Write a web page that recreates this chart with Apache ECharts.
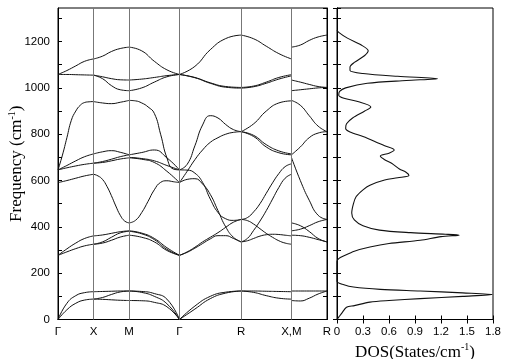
<!DOCTYPE html>
<html>
<head>
<meta charset="utf-8">
<script src="https://cdn.jsdelivr.net/npm/echarts@6/dist/echarts.min.js"></script>
<style>html,body{margin:0;padding:0;background:#fff}#c{width:508px;height:359px}</style>
</head>
<body>
<div id="c"></div>
<script>
// High-symmetry path (cumulative |k|, units of 2*pi/a)
const kNodes = [0, 0.5, 1.0, 1.7071, 2.5731, 3.2802, 3.7802];
const kLabels = ['Γ', 'X', 'M', 'Γ', 'R', 'X,M', 'R'];
const freqTicks = [0, 200, 400, 600, 800, 1000, 1200];
const dosTicks = [0, 0.3, 0.6, 0.9, 1.2, 1.5, 1.8];

// Band frequencies (cm^-1), each curve sampled uniformly along its segment
const bandsGX = [
  [0, 42, 70, 84, 88],
  [0, 70, 103, 116, 120],
  [277, 292, 306, 318, 325],
  [277, 305, 330, 350, 361],
  [591, 600, 610, 620, 627],
  [646, 655, 663, 670, 675],
  [646, 665, 685, 703, 715],
  [646, 710, 785, 860, 900, 925, 937, 940, 941],
  [1058, 1075, 1095, 1115, 1125],
  [1058, 1058, 1057, 1056, 1055]
];
const bandsXM = [
  [88, 87, 85, 83, 82],
  [88, 95, 108, 119, 123],
  [120, 121, 122, 123, 123],
  [325, 330, 342, 356, 364],
  [325, 335, 355, 374, 381],
  [361, 365, 372, 379, 383],
  [627, 620, 605, 575, 535, 490, 450, 425, 417],
  [675, 678, 685, 693, 698],
  [675, 682, 692, 703, 711],
  [715, 724, 729, 722, 711],
  [941, 935, 932, 938, 946],
  [1055, 1048, 1040, 1035, 1034],
  [1055, 1040, 1010, 992, 988],
  [1125, 1137, 1157, 1170, 1176]
];
const bandsMG = [
  [82, 81, 74, 55, 0],
  [123, 117, 100, 68, 0],
  [123, 121, 112, 88, 0],
  [364, 355, 335, 298, 277],
  [381, 370, 345, 303, 277],
  [383, 373, 350, 310, 277],
  [417, 428, 462, 510, 560, 592, 599, 595, 591],
  [698, 692, 678, 640, 591],
  [700, 695, 685, 665, 646],
  [711, 721, 732, 698, 646],
  [946, 944, 935, 918, 890, 800, 698, 650, 646],
  [988, 1000, 1025, 1048, 1058],
  [1034, 1038, 1045, 1053, 1058],
  [1176, 1160, 1115, 1078, 1058]
];
const bandsGR = [
  [0, 45, 90, 114, 123],
  [0, 58, 100, 118, 123],
  [277, 290, 308, 328, 348, 362, 362, 350, 335],
  [277, 292, 312, 335, 355, 375, 398, 420, 432],
  [591, 605, 608, 585, 540, 470, 400, 355, 335],
  [646, 645, 632, 592, 520, 462, 435, 428, 432],
  [591, 640, 690, 732, 765, 785, 800, 808, 811],
  [646, 670, 750, 840, 880, 870, 842, 820, 811],
  [1058, 1045, 1022, 1006, 1002],
  [1058, 1044, 1020, 1003, 999],
  [1058, 1093, 1165, 1213, 1228]
];
const bandsRX = [
  [123, 123, 122, 121, 120],
  [123, 117, 103, 92, 88],
  [432, 427, 412, 392, 372, 355, 340, 330, 325],
  [335, 340, 350, 360, 366, 368, 367, 364, 361],
  [335, 350, 385, 425, 470, 520, 570, 610, 627],
  [432, 440, 465, 500, 545, 590, 630, 660, 672],
  [811, 790, 745, 720, 711],
  [811, 795, 755, 728, 715],
  [811, 845, 900, 935, 944],
  [1002, 1008, 1025, 1045, 1057],
  [999, 1005, 1020, 1038, 1052],
  [1228, 1212, 1180, 1148, 1125]
];
const bandsMR = [
  [82, 80, 92, 110, 123],
  [123, 123, 123, 123, 123],
  [364, 362, 355, 345, 335],
  [383, 390, 405, 422, 432],
  [417, 405, 380, 350, 335],
  [700, 600, 515, 450, 432],
  [711, 745, 785, 805, 811],
  [946, 925, 880, 835, 811],
  [988, 992, 996, 1000, 1002],
  [1034, 1025, 1015, 1006, 1002],
  [1176, 1185, 1205, 1220, 1228]
];

// Phonon DOS: frequency (cm^-1) and states/cm^-1
const dosFreq = [1250, 1240, 1215, 1185, 1160, 1140, 1110, 1090, 1075, 1062, 1050, 1040, 1032, 1020, 1000, 985, 968, 955, 940, 918, 900, 870, 845, 825, 810, 790, 770, 750, 732, 718, 706, 690, 675, 650, 635, 622, 612, 602, 580, 560, 530, 500, 460, 430, 405, 386, 375, 368, 364, 358, 342, 328, 313, 295, 275, 263, 250, 165, 150, 140, 130, 123, 115, 108, 100, 90, 82, 75, 60, 53, 30, 10, 0];
const dosVal  = [0, 0.02, 0.12, 0.28, 0.36, 0.32, 0.2, 0.15, 0.15, 0.3, 0.7, 1.16, 0.8, 0.35, 0.1, 0.03, 0.02, 0.08, 0.25, 0.39, 0.32, 0.18, 0.11, 0.1, 0.15, 0.3, 0.43, 0.55, 0.66, 0.6, 0.5, 0.55, 0.63, 0.72, 0.8, 0.83, 0.7, 0.55, 0.38, 0.3, 0.22, 0.19, 0.17, 0.2, 0.3, 0.49, 0.85, 1.25, 1.41, 1.2, 0.96, 0.6, 0.38, 0.2, 0.08, 0.02, 0, 0, 0.08, 0.19, 0.5, 0.96, 1.45, 1.79, 1.45, 0.96, 0.6, 0.38, 0.2, 0.11, 0.06, 0.02, 0];

const segments = [
  [0, 1, bandsGX], [1, 2, bandsXM], [2, 3, bandsMG],
  [3, 4, bandsGR], [4, 5, bandsRX], [5, 6, bandsMR]
];

const series = [];
segments.forEach(([a, b, curves]) => {
  const k0 = kNodes[a], k1 = kNodes[b];
  curves.forEach(vals => {
    const n = vals.length;
    series.push({
      type: 'line', xAxisIndex: 0, yAxisIndex: 0,
      data: vals.map((v, i) => [k0 + (k1 - k0) * i / (n - 1), v]),
      symbol: 'none', smooth: 0.5, silent: true, z: 3,
      lineStyle: { color: '#111', width: 1 }
    });
  });
});
// vertical high-symmetry lines
series.push({
  type: 'line', xAxisIndex: 0, yAxisIndex: 0, data: [], silent: true,
  markLine: {
    silent: true, symbol: 'none', label: { show: false }, animation: false,
    lineStyle: { color: '#777', width: 1, type: 'solid' },
    data: kNodes.slice(1, -1).map(k => ({ xAxis: k }))
  }
});
series.push({
  type: 'line', xAxisIndex: 1, yAxisIndex: 2,
  data: dosFreq.map((f, i) => [dosVal[i], f]),
  symbol: 'none', smooth: 0.3, silent: true,
  lineStyle: { color: '#111', width: 1.1 }
});

const tickStyle = { inside: true, length: 4, lineStyle: { color: '#000' } };
const lab = { color: '#000', fontSize: 11.5, fontFamily: 'Liberation Sans' };
const axLine = { lineStyle: { color: '#000', width: 1 } };
const nameRich = {
  a: { fontFamily: 'Liberation Serif', fontSize: 17, lineHeight: 20, color: '#000' },
  b: { fontFamily: 'Liberation Serif', fontSize: 10, lineHeight: 10, color: '#000', verticalAlign: 'top' }
};

const option = {
  animation: false,
  backgroundColor: '#fff',
  grid: [
    { left: 58, top: 8, width: 269, bottom: 39.5, show: true, borderColor: '#000', borderWidth: 1, outerBoundsMode: 'none', containLabel: false },
    { left: 337, top: 8, width: 156, bottom: 39.5, show: true, borderColor: '#000', borderWidth: 1, outerBoundsMode: 'none', containLabel: false }
  ],
  xAxis: [
    { type: 'value', gridIndex: 0, min: 0, max: kNodes[6], axisLine: axLine,
      axisTick: { show: false }, splitLine: { show: false },
      axisLabel: Object.assign({}, lab, { margin: 6, showMinLabel: true, showMaxLabel: true,
        customValues: kNodes,
        formatter: v => { const i = kNodes.findIndex(k => Math.abs(k - v) < 1e-6); return i >= 0 ? kLabels[i] : ''; } }) },
    { type: 'value', gridIndex: 1, position: 'bottom', min: 0, max: 1.8, interval: 0.3,
      axisLine: axLine, axisTick: tickStyle, splitLine: { show: false },
      axisLabel: Object.assign({}, lab, { margin: 6, showMaxLabel: true,
        formatter: v => { const d = dosTicks.find(t => Math.abs(t - v) < 1e-6); return d === 0 ? '0' : (d !== undefined ? d.toFixed(1) : ''); } }),
      name: '{a|DOS(States/cm}{b|-1}{a|)}', nameLocation: 'middle', nameGap: 16,
      nameTextStyle: { rich: nameRich } },
    { type: 'value', gridIndex: 1, position: 'top', min: 0, max: 1.8, interval: 0.3,
      axisLine: axLine, axisTick: tickStyle, splitLine: { show: false }, axisLabel: { show: false } }
  ],
  yAxis: [
    { type: 'value', gridIndex: 0, position: 'left', min: 0, max: 1345, interval: 100,
      axisLine: axLine, axisTick: tickStyle, splitLine: { show: false },
      axisLabel: Object.assign({}, lab, { margin: 8, showMaxLabel: false,
        formatter: v => freqTicks.indexOf(v) >= 0 ? String(v) : '' }),
      name: '{a|Frequency (cm}{b|-1}{a|)}', nameLocation: 'middle', nameGap: 31, nameMoveOverlap: false,
      nameTextStyle: { rich: nameRich } },
    { type: 'value', gridIndex: 0, position: 'right', min: 0, max: 1345, interval: 100,
      axisLine: axLine, axisTick: tickStyle, splitLine: { show: false }, axisLabel: { show: false } },
    { type: 'value', gridIndex: 1, position: 'left', min: 0, max: 1345, interval: 100,
      axisLine: axLine, axisTick: tickStyle, splitLine: { show: false }, axisLabel: { show: false } },
    { type: 'value', gridIndex: 1, position: 'right', min: 0, max: 1345, interval: 100,
      axisLine: axLine, axisTick: tickStyle, splitLine: { show: false }, axisLabel: { show: false } }
  ],
  series: series
};
const chart = echarts.init(document.getElementById('c'), null, { renderer: 'canvas' });
chart.setOption(option);
</script>
</body>
</html>
